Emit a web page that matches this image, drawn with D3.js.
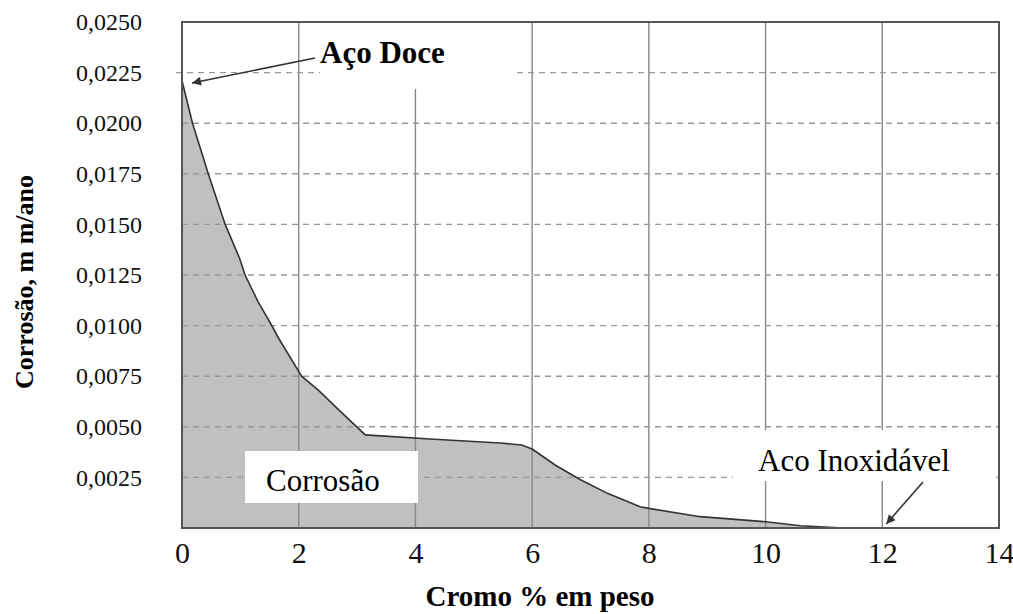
<!DOCTYPE html>
<html>
<head>
<meta charset="utf-8">
<script src="https://cdn.jsdelivr.net/npm/d3@7"></script>
<style>
    body { margin: 0; background: #fff; }
</style>
</head>
<body>
<svg class="chart" width="1013" height="614"></svg>
<script>
// chart values
var cromo = [0, 0.18, 0.45, 0.74, 0.99, 1.08, 1.30, 1.54, 1.65, 2.05, 2.34, 2.70, 3.14, 4.25, 5.45, 5.82, 6.0, 6.40, 6.82, 7.30, 7.85, 8.0, 8.88, 10.0, 10.6, 11.33];
var corrosao = [0.0221, 0.0200, 0.0175, 0.0150, 0.0133, 0.0125, 0.0112, 0.0100, 0.0094, 0.0075, 0.0068, 0.0058, 0.0046, 0.0044, 0.0042, 0.0041, 0.0039, 0.0031, 0.0024, 0.0017, 0.00105, 0.00097, 0.00056, 0.00031, 0.00011, 0];
var xTicks = [0, 2, 4, 6, 8, 10, 12, 14];
var yTicks = [0.0025, 0.0050, 0.0075, 0.0100, 0.0125, 0.0150, 0.0175, 0.0200, 0.0225, 0.0250];
var xTitle = 'Cromo % em peso';
var yTitle = 'Corrosão, m m/ano';
var areaLabel = 'Corrosão';
var topLabel = 'Aço Doce';
var bottomLabel = 'Aco Inoxidável';

(function () {
    var margin = { top: 22, right: 14, bottom: 86, left: 182 };
    var width = 1013, height = 614;
    var serif = '"Liberation Serif", "Times New Roman", serif';
    var points = cromo.map(function (c, i) { return { x: c, y: corrosao[i] }; });

    var x = d3.scaleLinear().domain([0, 14]).range([margin.left, width - margin.right]);
    var y = d3.scaleLinear().domain([0, 0.025]).range([height - margin.bottom, margin.top]);

    var svg = d3.select('.chart');

    // arrow head marker
    svg.append('defs').append('marker')
        .attr('id', 'arrow')
        .attr('viewBox', '0 0 10 10')
        .attr('refX', 10).attr('refY', 5)
        .attr('markerWidth', 16).attr('markerHeight', 9)
        .attr('markerUnits', 'userSpaceOnUse')
        .attr('orient', 'auto')
        .append('path')
            .attr('d', 'M0,0L10,5L0,10Z')
            .attr('fill', '#333');

    // shaded area under the curve
    svg.append('path')
        .datum(points)
        .attr('fill', '#c0c0c0')
        .attr('d', d3.area()
            .x(function (d) { return x(d.x); })
            .y0(y(0))
            .y1(function (d) { return y(d.y); }));

    // vertical grid lines
    svg.append('g')
        .selectAll('line')
        .data(xTicks.slice(1, -1))
        .enter().append('line')
            .attr('x1', function (d) { return x(d); })
            .attr('x2', function (d) { return x(d); })
            .attr('y1', y(0.025))
            .attr('y2', y(0))
            .attr('stroke', '#888')
            .attr('stroke-width', 1.4);

    // horizontal dashed grid lines
    svg.append('g')
        .selectAll('line')
        .data(yTicks.slice(0, -1))
        .enter().append('line')
            .attr('x1', function (d) { return d === 0.0225 ? x(0) - 6 : x(0); })
            .attr('x2', x(14))
            .attr('y1', function (d) { return y(d); })
            .attr('y2', function (d) { return y(d); })
            .attr('stroke', '#999')
            .attr('stroke-width', 1.4)
            .attr('stroke-dasharray', '6,5');

    // the curve itself
    svg.append('path')
        .datum(points)
        .attr('fill', 'none')
        .attr('stroke', '#333')
        .attr('stroke-width', 1.6)
        .attr('d', d3.line()
            .x(function (d) { return x(d.x); })
            .y(function (d) { return y(d.y); }));

    // white boxes behind the labels
    svg.append('rect').attr('x', 320).attr('y', y(0.025) + 1).attr('width', 197).attr('height', 66).attr('fill', '#fff');
    svg.append('rect').attr('x', 733).attr('y', 430).attr('width', 263).attr('height', 51).attr('fill', '#fff');
    svg.append('rect').attr('x', 245).attr('y', 451).attr('width', 173).attr('height', 52).attr('fill', '#fff');

    // plot border
    svg.append('rect')
        .attr('x', x(0)).attr('y', y(0.025))
        .attr('width', x(14) - x(0)).attr('height', y(0) - y(0.025))
        .attr('fill', 'none')
        .attr('stroke', '#555')
        .attr('stroke-width', 2);

    // axes
    var xAxis = svg.append('g')
        .attr('transform', 'translate(0,' + y(0) + ')')
        .call(d3.axisBottom(x).tickValues(xTicks).tickSize(0).tickPadding(14).tickFormat(d3.format('d')));
    xAxis.select('.domain').remove();
    xAxis.selectAll('text').style('font-size', '30px').style('font-family', serif).attr('fill', '#111');

    var yAxis = svg.append('g')
        .attr('transform', 'translate(' + x(0) + ',0)')
        .call(d3.axisLeft(y).tickValues(yTicks).tickSize(0).tickPadding(40)
            .tickFormat(function (d) { return d.toFixed(4).replace('.', ','); }));
    yAxis.select('.domain').remove();
    yAxis.selectAll('text').style('font-size', '24px').style('font-family', serif).attr('fill', '#111');

    // axis titles
    svg.append('text')
        .attr('x', 540).attr('y', 606)
        .attr('text-anchor', 'middle')
        .style('font-family', serif)
        .style('font-size', '29px').style('font-weight', 'bold')
        .text(xTitle);

    svg.append('text')
        .attr('transform', 'translate(33,282) rotate(-90)')
        .attr('text-anchor', 'middle')
        .style('font-family', serif)
        .style('font-size', '26px').style('font-weight', 'bold')
        .text(yTitle);

    // annotations
    svg.append('text')
        .attr('x', 320).attr('y', 63)
        .style('font-family', serif)
        .style('font-size', '31px').style('font-weight', 'bold')
        .text(topLabel);

    svg.append('line')
        .attr('x1', 315).attr('y1', 58)
        .attr('x2', x(0) + 10).attr('y2', 83)
        .attr('stroke', '#333').attr('stroke-width', 1.6)
        .attr('marker-end', 'url(#arrow)');

    svg.append('text')
        .attr('x', 266).attr('y', 491)
        .style('font-family', serif)
        .style('font-size', '31px')
        .text(areaLabel);

    svg.append('text')
        .attr('x', 758).attr('y', 471)
        .style('font-family', serif)
        .style('font-size', '31px')
        .text(bottomLabel);

    svg.append('line')
        .attr('x1', 923).attr('y1', 482)
        .attr('x2', x(12) + 4).attr('y2', 524)
        .attr('stroke', '#333').attr('stroke-width', 1.6)
        .attr('marker-end', 'url(#arrow)');
}());
</script>
</body>
</html>
